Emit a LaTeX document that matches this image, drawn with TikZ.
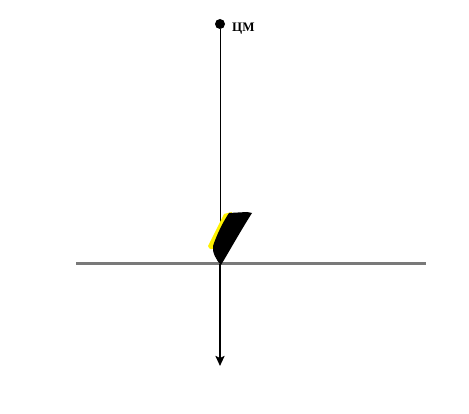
\documentclass[tikz,border=0pt]{standalone}
\usepackage{fontspec}
\setmainfont{Liberation Serif}
\usetikzlibrary{arrows.meta}
\begin{document}
\begin{tikzpicture}[x=1pt,y=-1pt,
  ground/.style={draw=gray!95!black, line width=3pt},
  plumb/.style={draw=black, line width=0.7pt},
  force/.style={draw=black, line width=2pt, -{Stealth[length=10pt,width=9pt,inset=2pt]}},
  cmlabel/.style={font=\bfseries\fontsize{13}{15}\selectfont, anchor=base west, inner sep=0pt}]
\useasboundingbox (0,0) rectangle (469,414);
% nodes
\node[circle, fill=black, minimum size=10pt, inner sep=0pt] (cm) at (220,24) {};
\node[cmlabel] (lbl) at (232,32) {ЦМ};
\coordinate (gl) at (76,264);
\coordinate (gr) at (426,264);
\coordinate (contact) at (220,264);
\coordinate (tip) at (220,366);
% ground
\draw[ground] (gl) -- (gr);
% plumb line
\draw[plumb] (cm) -- (contact);
% foot: yellow edge then black body
\fill[yellow] (224,214) -- (232,212) -- (216,247) .. controls (213,250) and (209,250) .. (208,246) -- cycle;
\fill[black] (229,213) -- (247,212) -- (252,213)
  .. controls (240,232) and (230,250) .. (221,265)
  .. controls (216,260) and (212,252) .. (213,246)
  .. controls (217,234) and (223,222) .. cycle;
% force arrow
\draw[force] (contact) -- (tip);
\end{tikzpicture}
\end{document}
